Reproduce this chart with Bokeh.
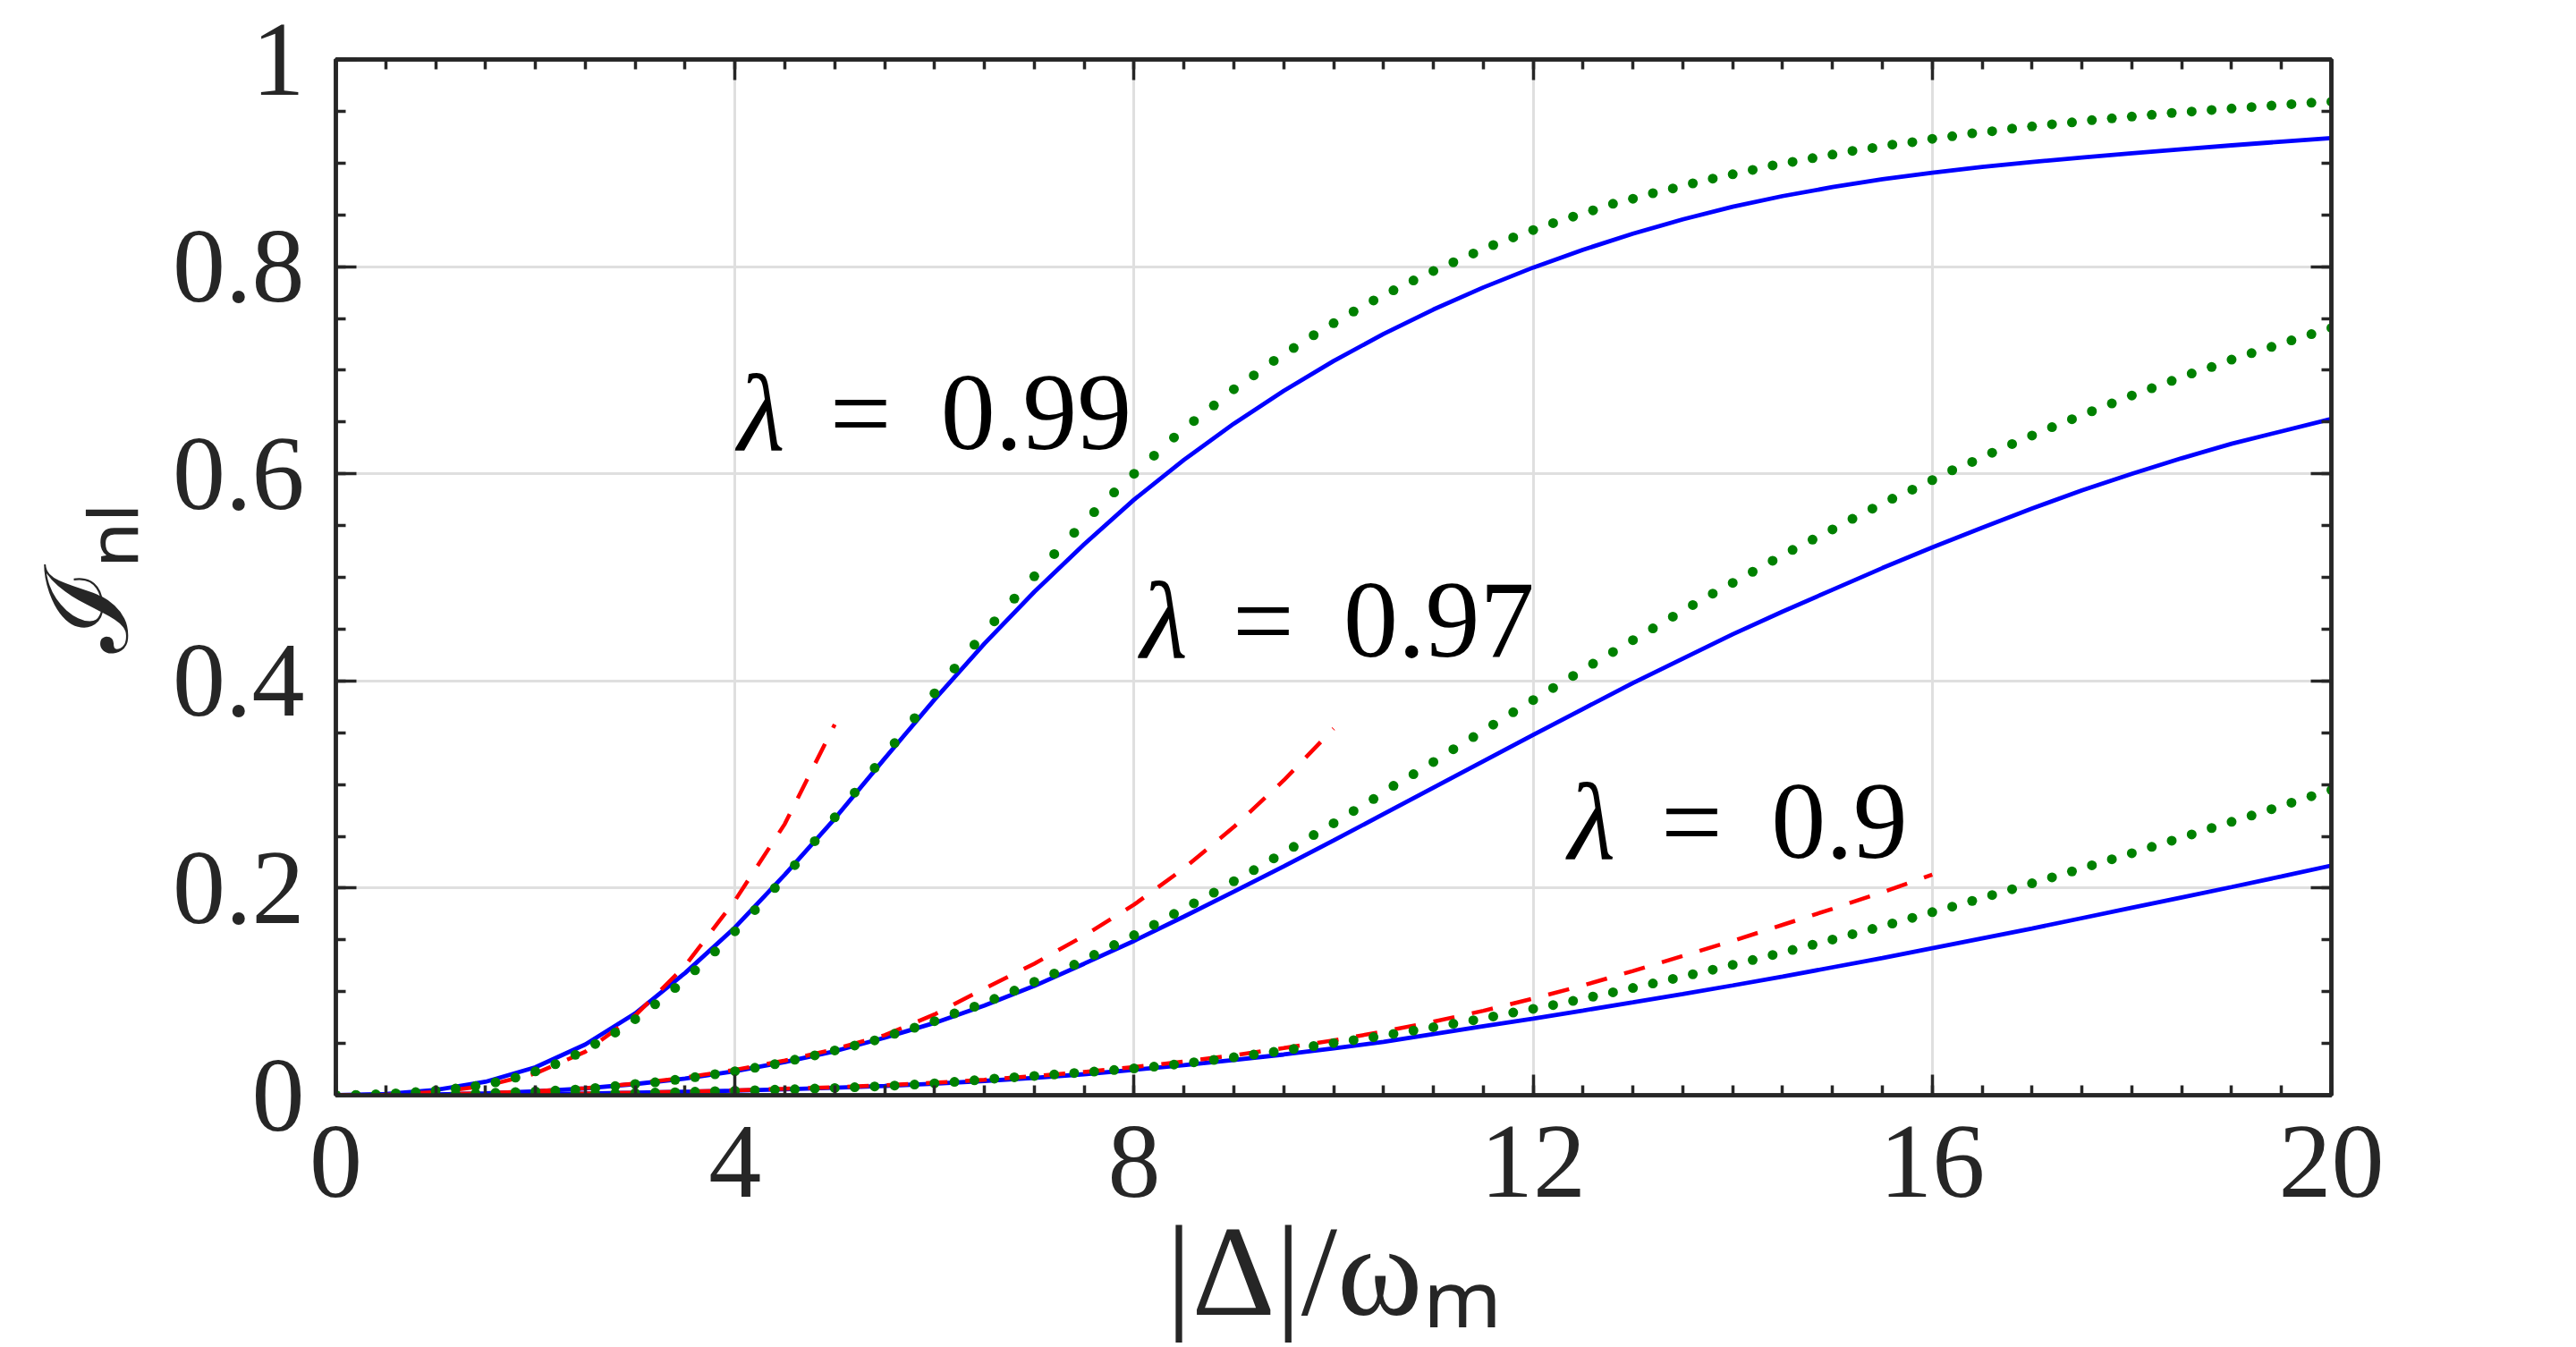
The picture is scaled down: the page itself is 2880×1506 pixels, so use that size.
from bokeh.plotting import figure
from bokeh.models import Range1d, FixedTicker, LinearAxis, Label, CustomJSTickFormatter
from bokeh.embed import file_html
from bokeh.resources import INLINE

# ---------------- data ----------------
X_MAJOR = [0, 4, 8, 12, 16, 20]
X_MINOR = [i * 0.5 for i in range(41)]
Y_MAJOR = [0, 0.2, 0.4, 0.6, 0.8, 1]
Y_MINOR = [i * 0.05 for i in range(21)]

LAMBDAS = ["0.99", "0.97", "0.9"]
X_LABEL = "|Δ|/ωₘ"
Y_LABEL = "ℐₙₗ"

# blue solid curves, sampled every 0.5 in |Delta|/omega_m (0 .. 20)
blue_099 = [0, 0.0012, 0.005, 0.013, 0.027, 0.049, 0.079, 0.118, 0.162, 0.213,
            0.267, 0.325, 0.382, 0.436, 0.486, 0.532, 0.575, 0.6134, 0.6484, 0.6801,
            0.7089, 0.735, 0.7586, 0.7799, 0.7991, 0.8163, 0.8318, 0.8456, 0.8579, 0.8681,
            0.8768, 0.8843, 0.8907, 0.8962, 0.901, 0.9054, 0.9095, 0.9134, 0.9171, 0.9207,
            0.9242]
blue_097 = [0, 0.0002, 0.0008, 0.0019, 0.0037, 0.0065, 0.0108, 0.016, 0.0232, 0.032,
            0.0425, 0.0555, 0.0698, 0.0865, 0.1055, 0.127, 0.149, 0.1725, 0.1965, 0.221,
            0.246, 0.2715, 0.297, 0.3225, 0.348, 0.373, 0.398, 0.4215, 0.445, 0.467,
            0.488, 0.509, 0.529, 0.548, 0.5665, 0.584, 0.600, 0.615, 0.629, 0.641,
            0.653]
blue_090 = [0, 0.0001, 0.0003, 0.0006, 0.001, 0.0016, 0.0024, 0.0033, 0.0044, 0.0057,
            0.0072, 0.009, 0.0112, 0.0138, 0.0168, 0.0203, 0.0245, 0.029, 0.034, 0.0393,
            0.0452, 0.0515, 0.059, 0.0665, 0.074, 0.0818, 0.0897, 0.0977, 0.106, 0.1145,
            0.1235, 0.1325, 0.142, 0.1515, 0.161, 0.171, 0.181, 0.191, 0.201, 0.2113,
            0.2217]

# red dashed (small-detuning) curves, sampled every 0.5
red_099 = [0, 0.0003, 0.003, 0.009, 0.021, 0.042, 0.077, 0.125, 0.188, 0.262, 0.358]
red_097 = [0, 0.0002, 0.0008, 0.002, 0.0038, 0.0068, 0.0112, 0.017, 0.0245, 0.0335,
           0.0445, 0.058, 0.078, 0.103, 0.127, 0.154, 0.184, 0.219, 0.259, 0.304,
           0.354]
red_090 = [0, 0.0001, 0.0003, 0.0006, 0.001, 0.0017, 0.0025, 0.0035, 0.0048, 0.0062,
           0.0078, 0.0097, 0.012, 0.015, 0.0185, 0.0225, 0.0272, 0.0325, 0.0385, 0.0455,
           0.053, 0.0615, 0.071, 0.0815, 0.0933, 0.106, 0.120, 0.1345, 0.149, 0.1645,
           0.180, 0.196, 0.213]

# green dotted markers, sampled every 0.2
green_099 = [0, 0.0002, 0.0008, 0.0018, 0.003, 0.0045, 0.0064, 0.0088, 0.0125, 0.017,
             0.023, 0.030, 0.039, 0.0495, 0.0605, 0.0735, 0.0878, 0.1036, 0.1206, 0.1388,
             0.1583,
             0.1788, 0.2001, 0.2222, 0.2453, 0.2683, 0.2922, 0.316, 0.340, 0.364, 0.388,
             0.412, 0.435, 0.4575, 0.4795, 0.501, 0.5225, 0.543, 0.563, 0.582, 0.600,
             0.6175, 0.635, 0.651, 0.666, 0.6816, 0.695, 0.709, 0.7214, 0.7338, 0.7454,
             0.7567, 0.7673, 0.7771, 0.7866, 0.7958, 0.8042, 0.8127, 0.8208, 0.8282, 0.8353,
             0.842, 0.8483, 0.8543, 0.8607, 0.8656, 0.8709, 0.8755, 0.8804, 0.8850, 0.8892,
             0.8934, 0.8977, 0.9012, 0.9047, 0.9082, 0.9118, 0.9146, 0.9178, 0.9202, 0.9234,
             0.9259, 0.9287, 0.9308, 0.9333, 0.9354, 0.9375, 0.9393, 0.9414, 0.9432, 0.9449,
             0.9466, 0.9484, 0.9498, 0.9513, 0.9527, 0.9541, 0.9555, 0.9569, 0.9583, 0.9593]
green_097 = [0, 0.0, 0.0001, 0.0003, 0.0005, 0.0008, 0.0012, 0.0017, 0.0023, 0.003,
             0.0037, 0.0045, 0.0055, 0.007, 0.0088, 0.0108, 0.0125, 0.0148, 0.0174, 0.0203,
             0.0232,
             0.0265, 0.030, 0.0343, 0.0385, 0.0432, 0.048, 0.053, 0.0593, 0.0652, 0.0715,
             0.079, 0.0855, 0.093, 0.101, 0.1095, 0.1175, 0.126, 0.1355, 0.145, 0.1545,
             0.1645, 0.175, 0.1853, 0.1955, 0.2066, 0.2173, 0.2287, 0.2398, 0.2512, 0.2626,
             0.2745, 0.286, 0.2987, 0.310, 0.3217, 0.334, 0.3458, 0.3578, 0.3698, 0.3815,
             0.3932, 0.4049, 0.4166, 0.428, 0.4394, 0.4507, 0.4621, 0.4733, 0.4843, 0.4947,
             0.5054, 0.516, 0.5265, 0.5364, 0.5463, 0.5565, 0.5663, 0.5759, 0.5847, 0.5939,
             0.6034, 0.6115, 0.6203, 0.6287, 0.6369, 0.645, 0.6527, 0.6604, 0.6679, 0.6756,
             0.6826, 0.6897, 0.6968, 0.7031, 0.7102, 0.7165, 0.7225, 0.7288, 0.7348, 0.7408]
green_090 = [0, 0.0, 0.0, 0.0001, 0.0001, 0.0002, 0.0003, 0.0004, 0.0005, 0.0007,
             0.0009, 0.0011, 0.0013, 0.0015, 0.0018, 0.0021, 0.0025, 0.0029, 0.0034, 0.0039,
             0.0044,
             0.0048, 0.0053, 0.0058, 0.0064, 0.0070, 0.0077, 0.0085, 0.0093, 0.0103, 0.0115,
             0.0129, 0.0144, 0.016, 0.0173, 0.0186, 0.0200, 0.0214, 0.0228, 0.0243, 0.0259,
             0.0276, 0.0296, 0.0318, 0.0341, 0.0366, 0.0392, 0.0418, 0.0446, 0.0475, 0.0504,
             0.0532, 0.0561, 0.0592, 0.0624, 0.0657, 0.069, 0.0724, 0.0761, 0.0798, 0.0834,
             0.0871, 0.091, 0.0952, 0.0994, 0.1036, 0.1079, 0.1123, 0.1168, 0.1212, 0.1259,
             0.1306, 0.1354, 0.1403, 0.1453, 0.1503, 0.1555, 0.1606, 0.1658, 0.1713, 0.1768,
             0.1821, 0.1876, 0.1933, 0.1989, 0.2046, 0.2103, 0.2161, 0.222, 0.2278, 0.2337,
             0.2398, 0.2457, 0.2518, 0.258, 0.264, 0.27, 0.2762, 0.2824, 0.2887, 0.2947]

STEP_LINE = 0.5
STEP_DOT = 0.2


def xs(values, step):
    return [i * step for i in range(len(values))]


# ---------------- figure ----------------
AX = "#262626"
FONT = "Liberation Serif"

p = figure(width=2880, height=1506, output_backend="svg", toolbar_location=None,
           x_range=Range1d(0, 20), y_range=Range1d(0, 1),
           min_border_left=375, min_border_right=274,
           min_border_top=66, min_border_bottom=282)
p.background_fill_color = "white"
p.border_fill_color = "white"
p.outline_line_color = AX
p.outline_line_width = 4.5

bottom_ax = p.xaxis[0]
left_ax = p.yaxis[0]

xt = FixedTicker(ticks=X_MAJOR, minor_ticks=X_MINOR)
yt = FixedTicker(ticks=Y_MAJOR, minor_ticks=Y_MINOR)
fmt = CustomJSTickFormatter(code="return (Math.round(tick*10)/10).toString();")
blank = CustomJSTickFormatter(code="return '';")


def style_axis(ax, ticker, show_labels, standoff):
    ax.ticker = ticker
    ax.axis_line_color = AX
    ax.axis_line_width = 4.5
    ax.major_tick_line_color = AX
    ax.minor_tick_line_color = AX
    ax.major_tick_line_width = 3.5
    ax.minor_tick_line_width = 3.5
    ax.major_tick_in = 23
    ax.major_tick_out = 0
    ax.minor_tick_in = 11
    ax.minor_tick_out = 0
    if show_labels:
        ax.formatter = fmt
        ax.major_label_text_font = FONT
        ax.major_label_text_font_size = "118px"
        ax.major_label_text_color = AX
        ax.major_label_standoff = standoff
    else:
        ax.formatter = blank
        ax.major_label_text_font_size = "1px"
        ax.major_label_standoff = 0


style_axis(bottom_ax, xt, True, 35)
style_axis(left_ax, yt, True, 35)
top_ax = LinearAxis()
style_axis(top_ax, xt, False, 0)
p.add_layout(top_ax, "above")
right_ax = LinearAxis()
style_axis(right_ax, yt, False, 0)
p.add_layout(right_ax, "right")

bottom_ax.axis_label = X_LABEL
bottom_ax.axis_label_text_font = FONT
bottom_ax.axis_label_text_font_size = "145px"
bottom_ax.axis_label_text_font_style = "normal"
bottom_ax.axis_label_text_color = AX
bottom_ax.axis_label_standoff = 0

left_ax.axis_label = Y_LABEL
left_ax.axis_label_text_font = FONT
left_ax.axis_label_text_font_size = "128px"
left_ax.axis_label_text_font_style = "normal"
left_ax.axis_label_text_color = AX
left_ax.axis_label_standoff = 20

p.xgrid.ticker = xt
p.ygrid.ticker = yt
for g in (p.xgrid[0], p.ygrid[0]):
    g.grid_line_color = "#dfdfdf"
    g.grid_line_width = 3

BLUE, RED, GREEN = "#0000FF", "#FF0000", "#008000"

for b in (blue_099, blue_097, blue_090):
    p.line(xs(b, STEP_LINE), b, line_color=BLUE, line_width=4.8)
for r in (red_099, red_097, red_090):
    p.line(xs(r, STEP_LINE), r, line_color=RED, line_width=4.5, line_dash="24 20")
for g in (green_099, green_097, green_090):
    p.scatter(xs(g, STEP_DOT), g, marker="circle", size=11,
              fill_color=GREEN, line_color=GREEN, line_width=0)


def lab(x, y, text, size, style="normal", align="left"):
    p.add_layout(Label(x=x, y=y, text=text, text_font=FONT,
                       text_font_size=f"{size}px", text_font_style=style,
                       text_color="#000000", text_align=align,
                       text_baseline="alphabetic"))


# lambda annotations: (lambda-left, "="-left, number-left, baseline) in data units
LAMBDA_POS = [(4.027, 4.951, 6.063, 0.659),
              (8.063, 8.987, 10.099, 0.4585),
              (12.35, 13.28, 14.386, 0.2642)]
for txt, (xl, xe, xn, yb) in zip(LAMBDAS, LAMBDA_POS):
    lab(xl, yb, "λ", 122, style="italic")
    lab(xe, yb, "=", 122)
    lab(xn, yb, txt, 122)

open("out.html", "w").write(file_html(p, INLINE))
